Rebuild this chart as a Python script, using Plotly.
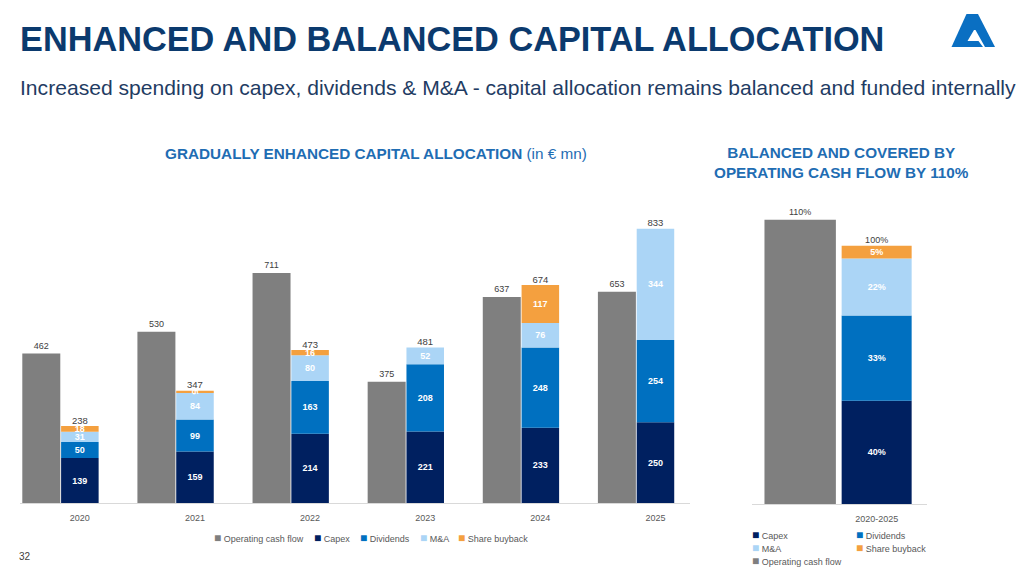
import plotly.graph_objects as go

# ---------------- data ----------------
years = ["2020", "2021", "2022", "2023", "2024", "2025"]
operating_cash_flow = [462, 530, 711, 375, 637, 653]
capex = [139, 159, 214, 221, 233, 250]
dividends = [50, 99, 163, 208, 248, 254]
m_and_a = [31, 84, 80, 52, 76, 344]
share_buyback = [18, 5, 16, None, 117, None]
allocation_totals = [238, 347, 473, 481, 674, 833]

period = ["2020-2025"]
ocf_share = [110]
capex_share = [40]
dividends_share = [33]
m_and_a_share = [22]
buyback_share = [5]

series_names = ["Operating cash flow", "Capex", "Dividends", "M&A", "Share buyback"]
colors = {
    "Operating cash flow": "#7f7f7f",
    "Capex": "#002060",
    "Dividends": "#0070c0",
    "M&A": "#abd5f6",
    "Share buyback": "#f4a03f",
}

FONT = "Liberation Sans, Arial, sans-serif"
# page body has an 8px margin: the figure fills the rest of the 1024x577 window
OFF = 8
W, H = 1024 - 2 * OFF, 577 - 2 * OFF


def px(x):
    return (x - OFF) / W


def py(y):
    return 1 - (y - OFF) / H


fig = go.Figure()

# ---------------- left chart ----------------
stack_w = 0.326
fig.add_trace(go.Bar(
    x=years, y=operating_cash_flow, name="Operating cash flow",
    xaxis="x2", yaxis="y", offset=-0.5, width=0.33,
    marker=dict(color=colors["Operating cash flow"], line=dict(width=0)),
    text=operating_cash_flow, textposition="outside", cliponaxis=False,
    textfont=dict(family=FONT, size=9.5, color="#404040"), showlegend=False,
))
left_stacks = [("Capex", capex), ("Dividends", dividends), ("M&A", m_and_a),
               ("Share buyback", share_buyback)]
for name, vals in left_stacks:
    fig.add_trace(go.Bar(
        x=years, y=vals, name=name, xaxis="x", yaxis="y",
        offset=-stack_w / 2, width=stack_w,
        marker=dict(color=colors[name], line=dict(width=0)),
        text=vals, textposition="inside", insidetextanchor="middle",
        constraintext="none",
        textfont=dict(family=FONT, size=9, color="white", weight="bold"),
        showlegend=False,
    ))

stack_tops = [sum(v for v in col if v is not None)
              for col in zip(capex, dividends, m_and_a, share_buyback)]
fig.add_trace(go.Scatter(
    x=years, y=stack_tops, mode="text", text=allocation_totals,
    textposition="top center", xaxis="x", yaxis="y", cliponaxis=False,
    textfont=dict(family=FONT, size=9.5, color="#404040"), showlegend=False,
))

# ---------------- right chart ----------------
fig.add_trace(go.Bar(
    x=period, y=ocf_share, name="Operating cash flow",
    xaxis="x4", yaxis="y3", offset=-0.641, width=0.408,
    marker=dict(color=colors["Operating cash flow"], line=dict(width=0)),
    text=[f"{v}%" for v in ocf_share], textposition="outside", cliponaxis=False,
    textfont=dict(family=FONT, size=9, color="#404040"), showlegend=False,
))
right_stacks = [("Capex", capex_share), ("Dividends", dividends_share),
                ("M&A", m_and_a_share), ("Share buyback", buyback_share)]
for name, vals in right_stacks:
    fig.add_trace(go.Bar(
        x=period, y=vals, name=name, xaxis="x3", yaxis="y3",
        offset=-0.2, width=0.4,
        marker=dict(color=colors[name], line=dict(width=0)),
        text=[f"{v}%" for v in vals], textposition="inside",
        insidetextanchor="middle", constraintext="none",
        textfont=dict(family=FONT, size=9, color="white", weight="bold"),
        showlegend=False,
    ))
right_total = [sum(c) for c in zip(capex_share, dividends_share, m_and_a_share, buyback_share)]
fig.add_trace(go.Scatter(
    x=period, y=right_total, mode="text", text=[f"{v}%" for v in right_total],
    textposition="top center", xaxis="x3", yaxis="y3", cliponaxis=False,
    textfont=dict(family=FONT, size=9, color="#404040"), showlegend=False,
))

# ---------------- axes ----------------
xl_dom = [px(20), px(690)]
xl_rng = [-0.52, 5.30]
xr_dom = [px(751.7), px(926.7)]
xr_rng = [-0.714, 0.286]
tickfont = dict(family=FONT, size=9, color="#595959")

fig.update_layout(
    width=W, height=H, autosize=False,
    margin=dict(l=0, r=0, t=0, b=0),
    paper_bgcolor="white", plot_bgcolor="rgba(0,0,0,0)",
    barmode="relative", showlegend=False,
    uniformtext=dict(mode="show", minsize=9),
    xaxis=dict(domain=xl_dom, range=xl_rng, type="category", categoryarray=years,
               anchor="y", showline=True, linecolor="#d9d9d9", linewidth=1,
               ticks="", tickfont=tickfont, showgrid=False, zeroline=False,
               ticklabelstandoff=6, fixedrange=True),
    xaxis2=dict(domain=xl_dom, range=xl_rng, type="category", categoryarray=years,
                overlaying="x", anchor="y", visible=False),
    yaxis=dict(domain=[py(503), py(212)], range=[0, 900], visible=False,
               showgrid=False, zeroline=False),
    xaxis3=dict(domain=xr_dom, range=xr_rng, type="category", categoryarray=period,
                anchor="y3", showline=True, linecolor="#d9d9d9", linewidth=1,
                ticks="", tickfont=tickfont, showgrid=False, zeroline=False,
                ticklabelstandoff=6),
    xaxis4=dict(domain=xr_dom, range=xr_rng, type="category", categoryarray=period,
                overlaying="x3", anchor="y3", visible=False),
    yaxis3=dict(domain=[py(504), py(194)], range=[0, 120], visible=False,
                showgrid=False, zeroline=False, anchor="x3"),
)

# ---------------- texts ----------------
ann = []
ann.append(dict(x=px(18), y=py(39), xref="paper", yref="paper", xanchor="left",
                yanchor="middle", showarrow=False,
                text="<b>ENHANCED AND BALANCED CAPITAL ALLOCATION</b>",
                font=dict(family=FONT, size=34.3, color="#0b3a6e")))
ann.append(dict(x=px(18), y=py(88), xref="paper", yref="paper", xanchor="left",
                yanchor="middle", showarrow=False,
                text="Increased spending on capex, dividends & M&A - capital allocation remains balanced and funded internally",
                font=dict(family=FONT, size=21.1, color="#1f3c63")))
ann.append(dict(x=px(376), y=py(153), xref="paper", yref="paper", xanchor="center",
                yanchor="middle", showarrow=False,
                text="<b>GRADUALLY ENHANCED CAPITAL ALLOCATION</b> (in € mn)",
                font=dict(family=FONT, size=15.3, color="#1f6db3")))
ann.append(dict(x=px(841), y=py(162), xref="paper", yref="paper", xanchor="center",
                yanchor="middle", showarrow=False,
                text="<b>BALANCED AND COVERED BY<br>OPERATING CASH FLOW BY 110%</b>",
                font=dict(family=FONT, size=15.3, color="#1f6db3")))
ann.append(dict(x=px(17), y=py(556), xref="paper", yref="paper", xanchor="left",
                yanchor="middle", showarrow=False, text="32",
                font=dict(family=FONT, size=10, color="#404040")))


def legend_item(name, x, y):
    return dict(x=px(x), y=py(y), xref="paper", yref="paper", xanchor="left",
                yanchor="middle", showarrow=False,
                text=(f'<span style="color:{colors[name]};font-size:12px">■</span>'
                      f' {name}'),
                font=dict(family=FONT, size=9, color="#595959"))


left_leg_x = [212, 312, 358, 418, 456]
for name, x in zip(series_names, left_leg_x):
    ann.append(legend_item(name, x, 538))

right_leg = [("Capex", 750, 535), ("Dividends", 854, 535), ("M&A", 750, 548),
             ("Share buyback", 854, 548), ("Operating cash flow", 750, 561)]
for name, x, y in right_leg:
    ann.append(legend_item(name, x, y))

fig.update_layout(annotations=ann)

# logo
fig.add_shape(type="path", xref="paper", yref="paper",
              path=(f"M{px(966.5)},{py(14)} L{px(978)},{py(14)} L{px(995)},{py(47)} "
                    f"L{px(951.5)},{py(47)} Z"),
              fillcolor="#0a6fc2", line=dict(width=0), layer="above")
fig.add_shape(type="path", xref="paper", yref="paper",
              path=(f"M{px(974)},{py(30)} L{px(967.5)},{py(41)} L{px(978.5)},{py(41)} "
                    f"L{px(983)},{py(47)} L{px(985)},{py(47)} L{px(975.5)},{py(30)} Z"),
              fillcolor="white", line=dict(width=0), layer="above")

fig.write_html("out.html")
